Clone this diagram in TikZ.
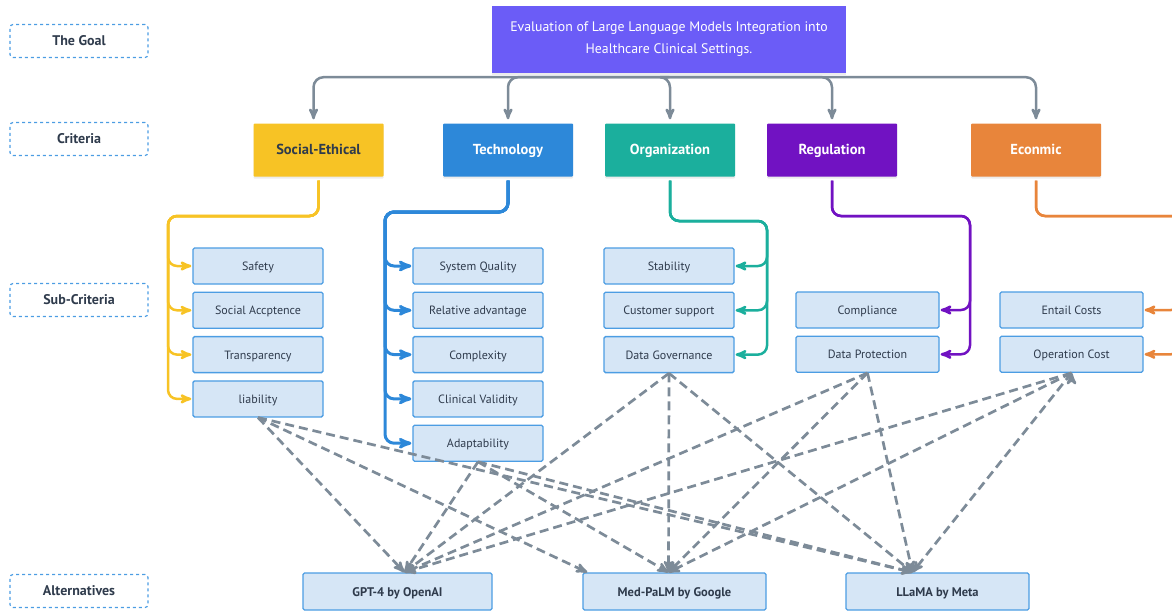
\documentclass[tikz,border=0pt]{standalone}
\usepackage{fontspec}
\setmainfont{PT Sans}
\usepackage{tikz}
\usetikzlibrary{arrows,shadows}

\definecolor{ink}{HTML}{2F3B4C}
\definecolor{goalblue}{HTML}{6B5CF7}
\definecolor{crityellow}{HTML}{F7C325}
\definecolor{critblue}{HTML}{2D88D9}
\definecolor{critteal}{HTML}{1BAF9D}
\definecolor{critpurple}{HTML}{7112C2}
\definecolor{critorange}{HTML}{E8853B}
\definecolor{subfill}{HTML}{D6E6F6}
\definecolor{subedge}{HTML}{4C9DE3}
\definecolor{linegray}{HTML}{7D8B98}

\begin{document}
\begin{tikzpicture}[x=1pt,y=-1pt,>=stealth',node distance=44.3pt,
  tag node/.style={draw=subedge,dashed,line width=1.2pt,rounded corners=3pt,minimum width=138pt,minimum height=33pt,inner sep=0pt,text height=2.2ex,text depth=0.4ex,text=ink,font=\bfseries\fontsize{14}{16}\selectfont},
  goal node/.style={fill=goalblue,text=white,align=center,minimum width=354pt,minimum height=67pt,inner sep=0pt,font=\fontsize{13.8}{22}\selectfont,drop shadow={opacity=0.15,shadow xshift=0pt,shadow yshift=-2pt}},
  crit node/.style={text=white,minimum width=130pt,minimum height=53pt,inner sep=0pt,text height=2.2ex,text depth=0.4ex,rounded corners=1pt,font=\bfseries\fontsize{14.5}{17}\selectfont,drop shadow={opacity=0.15,shadow xshift=0pt,shadow yshift=-2pt}},
  sub node/.style={fill=subfill,draw=subedge,line width=1.3pt,rounded corners=1.5pt,minimum width=130pt,minimum height=36pt,inner sep=0pt,text height=2.2ex,text depth=0.4ex,text=ink,font=\fontsize{12}{14}\selectfont},
  wide node/.style={sub node,minimum width=143pt},
  alt node/.style={sub node,minimum width=183pt,minimum height=37pt,font=\bfseries\fontsize{12.5}{14}\selectfont},
  goal line/.style={->,draw=linegray,line width=2.5pt,rounded corners=10pt,shorten >=4pt},
  branch/.style={->,line width=2.5pt,rounded corners=9pt,shorten <=4pt,shorten >=1pt},
  dash line/.style={->,draw=linegray,line width=2.7pt,dash pattern=on 9pt off 5pt}]

 \useasboundingbox (0,0) rectangle (1172,611);

 % level tags
 \node[tag node] (goal tag) at (79,41) {The Goal};
 \node[tag node] (crit tag) at (79,139) {Criteria};
 \node[tag node] (sub tag) at (79,300) {Sub-Criteria};
 \node[tag node] (alt tag) at (79,591) {Alternatives};

 % goal
 \node[goal node] (goal) at (669,39.5) {Evaluation of Large Language Models Integration into\\Healthcare Clinical Settings.};

 % criteria
 \node[crit node,fill=crityellow,text=ink] (social) at (318.5,150) {Social-Ethical};
 \node[crit node,fill=critblue] (tech) [right of=social,node distance=189.5pt] {Technology};
 \node[crit node,fill=critteal] (org) [right of=tech,node distance=162pt] {Organization};
 \node[crit node,fill=critpurple] (reg) [right of=org,node distance=162pt] {Regulation};
 \node[crit node,fill=critorange] (eco) [right of=reg,node distance=204pt] {Econmic};

 % sub-criteria
 \node[sub node] (safety) at (258,266) {Safety};
 \node[sub node] (accept) [below of=safety] {Social Accptence};
 \node[sub node] (transp) [below of=accept] {Transparency};
 \node[sub node] (liab) [below of=transp] {liability};

 \node[sub node] (quality) at (478,266) {System Quality};
 \node[sub node] (advant) [below of=quality] {Relative advantage};
 \node[sub node] (complex) [below of=advant] {Complexity};
 \node[sub node] (valid) [below of=complex] {Clinical Validity};
 \node[sub node] (adapt) [below of=valid] {Adaptability};

 \node[sub node] (stable) at (669,266) {Stability};
 \node[sub node] (support) [below of=stable] {Customer support};
 \node[sub node] (govern) [below of=support] {Data Governance};

 \node[wide node] (comply) at (867.5,310) {Compliance};
 \node[wide node] (protect) [below of=comply] {Data Protection};

 \node[wide node] (entail) at (1071.5,310) {Entail Costs};
 \node[wide node] (opcost) [below of=entail] {Operation Cost};

 % alternatives
 \node[alt node,minimum width=189pt] (gpt) at (397.5,591.5) {GPT-4 by OpenAI};
 \node[alt node] (medpalm) at (674.5,591.5) {Med-PaLM by Google};
 \node[alt node] (llama) at (937.5,591.5) {LLaMA by Meta};

 % turning points
 \coordinate (hub) at ([yshift=-4pt]goal.south);
 \coordinate (social bus) at (168,216);
 \coordinate (tech bus) at (385,212);
 \coordinate (org bus) at (767,221);
 \coordinate (reg bus) at (970,216);
 \coordinate (eco bus) at (1180,216);
 \coordinate (gpt in) at ([xshift=7pt]gpt.north);
 \coordinate (med in) at ([xshift=-6pt]medpalm.north);
 \coordinate (med corner) at ([xshift=5pt]medpalm.north west);
 \coordinate (llama in) at ([xshift=-25pt]llama.north);

 % goal -> criteria
 \draw[goal line] (hub) -| ([xshift=-5pt]social.north);
 \draw[goal line] (hub) -| (tech.north);
 \draw[goal line] (hub) -| (org.north);
 \draw[goal line] (hub) -| (reg.north);
 \draw[goal line] (hub) -| (eco.north);

 % criteria -> sub-criteria
 \draw[branch,crityellow] (social.south) |- (social bus) |- (safety.west);
 \draw[branch,crityellow] (social.south) |- (social bus) |- (accept.west);
 \draw[branch,crityellow] (social.south) |- (social bus) |- (transp.west);
 \draw[branch,crityellow] (social.south) |- (social bus) |- (liab.west);

 \draw[branch,critblue,line width=3pt] (tech.south) |- (tech bus) |- (quality.west);
 \draw[branch,critblue,line width=3pt] (tech.south) |- (tech bus) |- (advant.west);
 \draw[branch,critblue,line width=3pt] (tech.south) |- (tech bus) |- (complex.west);
 \draw[branch,critblue,line width=3pt] (tech.south) |- (tech bus) |- (valid.west);
 \draw[branch,critblue,line width=3pt] (tech.south) |- (tech bus) |- (adapt.west);

 \draw[branch,critteal] (org.south) |- (org bus) |- (stable.east);
 \draw[branch,critteal] (org.south) |- (org bus) |- (support.east);
 \draw[branch,critteal] (org.south) |- (org bus) |- (govern.east);

 \draw[branch,critpurple] (reg.south) |- (reg bus) |- (comply.east);
 \draw[branch,critpurple] (reg.south) |- (reg bus) |- (protect.east);

 \draw[branch,critorange] (eco.south) |- (eco bus) |- (entail.east);
 \draw[branch,critorange] (eco.south) |- (eco bus) |- (opcost.east);

 % sub-criteria -> alternatives
 \path[dash line]
    (liab.south)    edge (gpt in)
    (liab.south)    edge (med corner)
    (liab.south)    edge (llama in)
    (adapt.south)   edge (gpt in)
    (adapt.south)   edge (med in)
    (adapt.south)   edge (llama in)
    (govern.south)  edge (gpt in)
    (govern.south)  edge (med in)
    (govern.south)  edge (llama in)
    (protect.south) edge (gpt in)
    (protect.south) edge (med in)
    (protect.south) edge (llama in)
    (opcost.south)  edge (gpt in)
    (opcost.south)  edge (med in)
    (opcost.south)  edge (llama in);

\end{tikzpicture}
\end{document}
